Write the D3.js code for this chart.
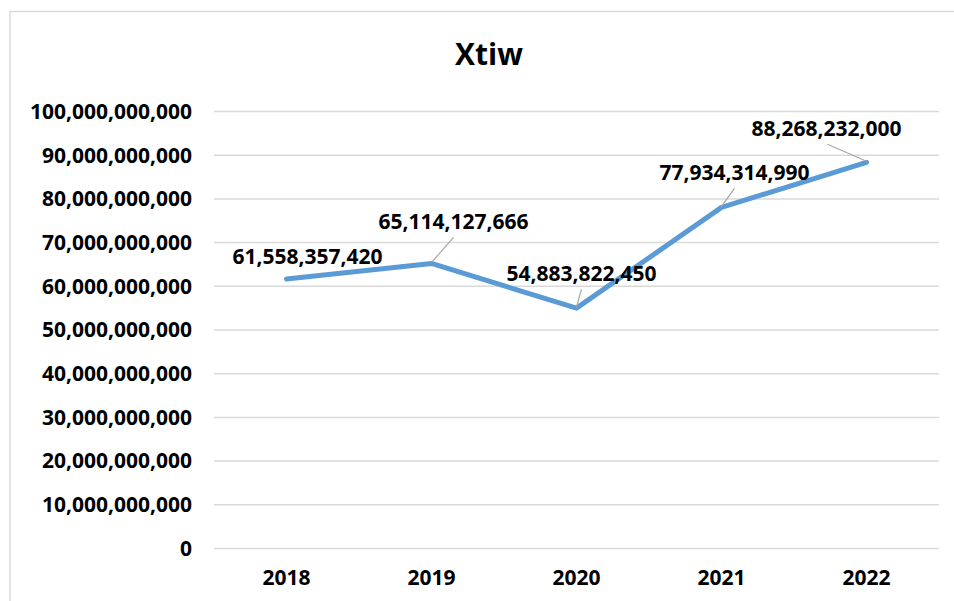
<!DOCTYPE html>
<html>
<head>
<meta charset="utf-8">
<script src="https://cdn.jsdelivr.net/npm/d3@7"></script>
<style>
  html, body { margin: 0; padding: 0; background: #fff; }
  svg { display: block; }
  text { font-family: "Open Sans", "Liberation Sans", sans-serif; font-weight: bold; fill: #000; }
</style>
</head>
<body>
<svg id="chart" width="954" height="601"></svg>
<script>
// ---- data ----
const title = "Xtiw";
const categories = ["2018", "2019", "2020", "2021", "2022"];
const values = [61558357420, 65114127666, 54883822450, 77934314990, 88268232000];
const yTicks = [0, 10e9, 20e9, 30e9, 40e9, 50e9, 60e9, 70e9, 80e9, 90e9, 100e9];
// label placement offsets relative to each point (layout only)
const labelDx = [21, 22, 5, 13, -40];
const labelDy = [-22, -42, -35, -35, -34];
const leaderOn = [false, true, true, true, true];

// ---- layout ----
const W = 954, H = 601;
const plot = { left: 214, right: 939, top: 111, bottom: 548 };
const svg = d3.select("#chart");

// chart border
svg.append("rect")
  .attr("x", 10).attr("y", 11.5)
  .attr("width", 960).attr("height", 620)
  .attr("fill", "#fff").attr("stroke", "#d9d9d9").attr("stroke-width", 1.5);

const x = d3.scaleBand().domain(categories).range([plot.left, plot.right]).padding(0);
const y = d3.scaleLinear().domain([0, 100e9]).range([plot.bottom, plot.top]);
const fmt = d3.format(",");

// title
svg.append("text")
  .attr("x", 489).attr("y", 65)
  .attr("text-anchor", "middle")
  .style("font-size", "30px")
  .text(title);

// gridlines
const yAxis = d3.axisLeft(y).tickValues(yTicks).tickFormat(fmt)
  .tickSize(-(plot.right - plot.left)).tickPadding(22);
const gy = svg.append("g").attr("transform", `translate(${plot.left},0)`).call(yAxis);
gy.select(".domain").remove();
gy.selectAll(".tick line").attr("stroke", "#d9d9d9").attr("stroke-width", 1.5);
gy.selectAll(".tick text")
  .style("font-size", "21px")
  .attr("dy", "0.35em")
  .attr("fill", "#000");

// x axis
const xAxis = d3.axisBottom(x).tickSize(0).tickPadding(22);
const gx = svg.append("g").attr("transform", `translate(0,${plot.bottom})`).call(xAxis);
gx.select(".domain").remove();
gx.selectAll(".tick text").style("font-size", "21px").attr("fill", "#000");

// line
const cx = d => x(d) + x.bandwidth() / 2;
const pts = categories.map((c, i) => ({ c, v: values[i], i }));
const line = d3.line().x(d => cx(d.c)).y(d => y(d.v));
svg.append("path")
  .datum(pts)
  .attr("d", line)
  .attr("fill", "none")
  .attr("stroke", "#5b9bd5")
  .attr("stroke-width", 5)
  .attr("stroke-linejoin", "round")
  .attr("stroke-linecap", "round");

// leader lines
svg.append("g").selectAll("line")
  .data(pts.filter(d => leaderOn[d.i]))
  .join("line")
  .attr("x1", d => cx(d.c)).attr("y1", d => y(d.v) - 1)
  .attr("x2", d => {
    const lx = cx(d.c) + labelDx[d.i];
    return labelDx[d.i] < -20 ? lx + 1 : lx;
  })
  .attr("y2", d => y(d.v) + labelDy[d.i] + 16)
  .attr("stroke", "#a6a6a6").attr("stroke-width", 1.2);

// data labels
svg.append("g").selectAll("text")
  .data(pts)
  .join("text")
  .attr("x", d => cx(d.c) + labelDx[d.i])
  .attr("y", d => y(d.v) + labelDy[d.i])
  .attr("dy", "0.35em")
  .attr("text-anchor", "middle")
  .style("font-size", "21px")
  .text(d => fmt(d.v));
</script>
</body>
</html>
